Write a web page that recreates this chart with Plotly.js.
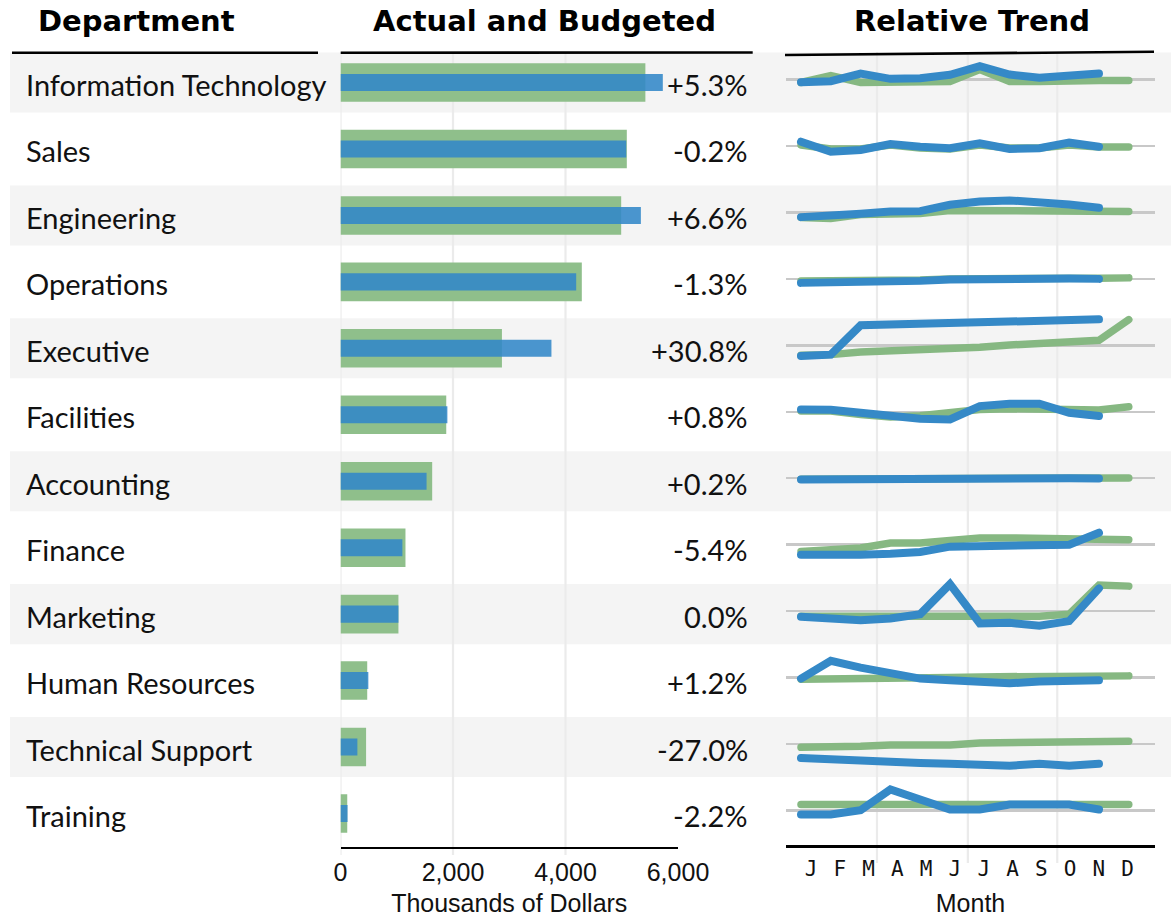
<!DOCTYPE html>
<html>
<head>
<meta charset="utf-8">
<script src="https://cdn.plot.ly/plotly-3.0.1.min.js"></script>
<style>
  html, body { margin: 0; padding: 0; background: #fff; }
  #chart { width: 1171px; height: 917px; }
  .js-line { stroke-linecap: round; }
</style>
</head>
<body>
<div id="chart"></div>
<script>
// ---------------- DATA ----------------
const departments = ['Information Technology','Sales','Engineering','Operations','Executive','Facilities',
  'Accounting','Finance','Marketing','Human Resources','Technical Support','Training'];
const budgeted = [5420, 5090, 4990, 4290, 2870, 1880, 1630, 1155, 1030, 475, 455, 120];
const actual   = [5730, 5080, 5340, 4190, 3750, 1900, 1530, 1100, 1030, 495, 300, 125];
const pctLabels = ['+5.3%','-0.2%','+6.6%','-1.3%','+30.8%','+0.8%','+0.2%','-5.4%','0.0%','+1.2%','-27.0%','-2.2%'];
const months = ['J','F','M','A','M','J','J','A','S','O','N','D'];
const barTicks = [0, 2000, 4000, 6000];

// relative trend, budget (12 months) per department
const budgetTrend = [
  [-3, 4, -3, -3, -3, -2, 10, -2, -2, -1, -1, -1],
  [1, -3, -3, 1, -2, -3, 1, -2, -2, 1, -1, -1],
  [-5, -6, -2, -1, -1, 2, 2, 2, 2, 1, 1, 1],
  [-2, -2, -2, -1.5, -1, 0, 0.5, 0.5, 0.5, 0.7, 0.7, 1],
  [-10, -9.3, -6.7, -5.7, -4.3, -2.7, -2, 0.3, 2.3, 4.3, 5, 25.7],
  [0.7, 0.7, -2.7, -5.3, -4, -1, 2.3, 3, 3, 1.7, 1.7, 5],
  [-1, -1, -0.7, -0.3, 0, 0, 0, 0, 0, 0, 0, 0.3],
  [-6.7, -4.7, -3.3, 1.7, 1.7, 4.3, 6.7, 6.7, 6.7, 6.7, 5, 5],
  [-5, -5, -5, -5, -5, -5, -5, -5, -5, -3, 26, 25],
  [-1.7, -1.7, -1.3, -1, -0.7, 0, 0.7, 1, 1, 1.3, 1.7, 1.7],
  [-3.3, -3.3, -2.3, -1, -1, -1, 1, 1, 1, 2.7, 2.7, 2.7],
  [6, 6, 6, 6, 6, 6, 6, 6, 6, 6, 6, 6]
];
// relative trend, actual (Jan-Nov) per department
const actualTrend = [
  [-2.7, -1.7, 6, 0.7, 1.3, 4.7, 13.3, 5, 1.7, 3.3, 6],
  [4.3, -5.7, -4, 2, -0.7, -2.3, 2.7, -3, -2.3, 3.3, -0.7],
  [-4.7, -3.7, -1.3, 1, 1.3, 7.7, 11, 12, 10.3, 8, 4.7],
  [-4, -4, -3.7, -3, -2, -0.7, 0, 0.3, 0.3, 0.3, 0],
  [-10.7, -9.3, 20, 20.7, 21.3, 22.7, 24, 24, 24, 24.7, 26],
  [2.3, 2, -1, -4.3, -7, -7.7, 5.7, 8, 8, -1, -4.3],
  [-1.3, -1, -0.7, -0.3, 0, 0, 0, 0, 0, 0, -0.3],
  [-10, -10.7, -10, -9, -7.3, -2, -1.3, 0, 0, 0, 12],
  [-5.7, -7.7, -9, -7.3, -3, 27, -12.3, -11.7, -14.7, -10, 22.7],
  [-1, 16.7, 10, 5, -1, -2.7, -4.3, -5.7, -4, -2.7, -2.7],
  [-14, -15.7, -15.7, -17.3, -19, -19.7, -21.7, -21.7, -19.7, -21.7, -19.7],
  [-4, -4, 0.3, 21, 11, 1, 1, 6, 6, 6, 1]
];

// ---------------- LAYOUT CONSTANTS ----------------
const W = 1171, H = 917;
const px = v => v / W;
const py = v => 1 - v / H;
const rowTop = 49.3, rowBottom = 846.7;
const nRows = departments.length;
const pitch = (rowBottom - rowTop) / nRows;
const GREEN_BAR = '#8fbf8b';
const BLUE_BAR = 'rgba(50,135,200,0.88)';
const GREEN_LINE = '#86b882';
const BLUE_LINE = '#3589c7';
const labelFont = {family: 'Lato, "Open Sans", sans-serif', size: 29, color: '#111'};
const headFont = {family: '"DejaVu Sans", sans-serif', size: 29, color: '#000', weight: 700};
const axisFont = {family: '"Liberation Sans", Arial, sans-serif', size: 25, color: '#111'};

const traces = [];
traces.push({
  type: 'bar', orientation: 'h', y: departments, x: budgeted,
  marker: {color: GREEN_BAR}, width: 0.58, xaxis: 'x', yaxis: 'y', hoverinfo: 'skip'
});
traces.push({
  type: 'bar', orientation: 'h', y: departments, x: actual,
  marker: {color: BLUE_BAR}, width: 0.256, xaxis: 'x', yaxis: 'y', hoverinfo: 'skip'
});

const layout = {
  width: W, height: H,
  margin: {l: 0, r: 0, t: 0, b: 0},
  paper_bgcolor: '#fff', plot_bgcolor: 'rgba(0,0,0,0)',
  showlegend: false, barmode: 'overlay',
  xaxis: {
    domain: [px(340.5), px(678)], range: [0, 6000], anchor: 'y',
    tickvals: barTicks, tickformat: ',d', showgrid: false, zeroline: false,
    showline: true, linecolor: '#000', linewidth: 2.5, ticks: '',
    tickfont: axisFont, ticklabelstandoff: 2,
    title: {text: 'Thousands of Dollars', font: axisFont, standoff: 12},
    fixedrange: true
  },
  yaxis: {
    domain: [py(rowBottom), py(rowTop)], type: 'category', categoryarray: departments,
    range: [nRows - 0.5, -0.5], showticklabels: false, showgrid: false, zeroline: false,
    showline: false, ticks: '', fixedrange: true, anchor: 'x'
  },
  xaxis2: {
    domain: [px(786), px(1155)], range: [-0.503, 11.88], anchor: 'free', position: py(846),
    tickvals: months.map((m, i) => 0.336 + 0.966 * i), ticktext: months,
    showgrid: false, zeroline: false, showline: true, linecolor: '#000', linewidth: 2.5,
    ticks: '', tickfont: {family: '"DejaVu Sans Mono", monospace', size: 21, color: '#111'},
    ticklabelstandoff: 3,
    title: {text: 'Month', font: axisFont, standoff: 15},
    fixedrange: true
  },
  shapes: [], annotations: []
};

// row bands
departments.forEach((d, i) => {
  if (i % 2 === 0) {
    layout.shapes.push({type: 'rect', xref: 'paper', yref: 'y', x0: px(10), x1: 1,
      y0: i - 0.4515, y1: i + 0.4515, fillcolor: '#f4f4f4', line: {width: 0}, layer: 'below'});
  }
});
// bar gridlines
[0, 2000, 4000].forEach(v => layout.shapes.push({type: 'line', xref: 'x', yref: 'paper',
  x0: v, x1: v, y0: py(855), y1: py(52), line: {color: '#ebebeb', width: 2.2}, layer: 'below'}));
// quarter gridlines in trend panel
[2.55, 5.6, 8.6].forEach(v => layout.shapes.push({type: 'line', xref: 'x2', yref: 'paper',
  x0: v, x1: v, y0: py(863), y1: py(52), line: {color: '#ebebeb', width: 2.2}, layer: 'below'}));
// header underlines
[[12, 52.7, 318, 52.7], [340.7, 52.7, 752.7, 52.5], [785, 55, 1154, 51.7]].forEach(s =>
  layout.shapes.push({type: 'line', xref: 'paper', yref: 'paper', x0: px(s[0]), y0: py(s[1]),
    x1: px(s[2]), y1: py(s[3]), line: {color: '#000', width: 2.6}}));

// headers
[['Department', 136], ['Actual and Budgeted', 544], ['Relative Trend', 971.5]].forEach(h =>
  layout.annotations.push({text: h[0], xref: 'paper', yref: 'paper', x: px(h[1]), y: py(21),
    xanchor: 'center', yanchor: 'middle', showarrow: false, font: headFont}));

// department and percentage labels
departments.forEach((d, i) => {
  layout.annotations.push({text: d, xref: 'paper', yref: 'y', x: px(24), y: i, yshift: -2,
    xanchor: 'left', yanchor: 'middle', showarrow: false, font: labelFont});
  layout.annotations.push({text: pctLabels[i], xref: 'paper', yref: 'y', x: px(750), y: i, yshift: -2,
    xanchor: 'right', yanchor: 'middle', showarrow: false, font: labelFont});
});

// trend sparkline subplots, one y axis per row
const xIdx = months.map((m, i) => i);
departments.forEach((d, k) => {
  const c = rowTop + pitch * (k + 0.5);
  const base = c - 3;
  const half = 53;
  const name = 'yaxis' + (k + 2);
  layout[name] = {
    domain: [py(c + half), py(c - half)],
    range: [-(c + half - base), base - (c - half)],
    anchor: 'x2', showticklabels: false, showgrid: false, showline: false, ticks: '',
    zeroline: true, zerolinecolor: '#c8c8c8', zerolinewidth: 2.5, fixedrange: true
  };
  traces.push({type: 'scatter', mode: 'lines', x: xIdx, y: budgetTrend[k],
    xaxis: 'x2', yaxis: 'y' + (k + 2), line: {color: GREEN_LINE, width: 7.5}, hoverinfo: 'skip'});
  traces.push({type: 'scatter', mode: 'lines', x: xIdx.slice(0, actualTrend[k].length), y: actualTrend[k],
    xaxis: 'x2', yaxis: 'y' + (k + 2), line: {color: BLUE_LINE, width: 8}, hoverinfo: 'skip'});
});

Plotly.newPlot('chart', traces, layout, {staticPlot: true, displayModeBar: false});
</script>
</body>
</html>
